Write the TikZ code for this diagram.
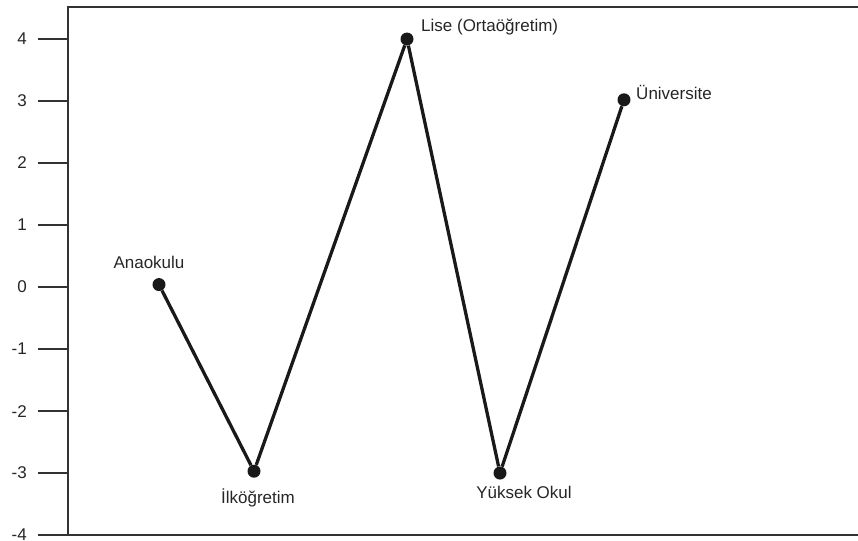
\documentclass[tikz,border=0pt]{standalone}
\usepackage{fontspec}
\setmainfont{Liberation Sans}
\tikzset{
  dot/.style={circle,fill=black!90,inner sep=0pt,minimum size=0.39cm},
  lbl/.style={text=black!85,font=\fontsize{14.5}{16}\selectfont,inner sep=0pt},
  axisline/.style={line width=1.6pt,draw=black!80},
  link/.style={line width=2.8pt,draw=black!90}
}
\begin{document}
\begin{tikzpicture}[x=0.03cm,y=1.86cm]
    \useasboundingbox (-68,-4.08) rectangle (790,4.63);
    % frame: top, left axis, bottom
    \draw [axisline] (790,4.516) -- (0,4.516) -- (0,-4) -- (790,-4);
    % ticks
    \foreach \v in {-4,...,4} {
        \draw [axisline] (-30,\v) -- (0,\v);
        \node [lbl,anchor=east] (t\v) at (-41,\v) {\v};
    }
    % points
    \node (ana) at (91,0.04) [dot] {};
    \node (ilk) at (186,-2.97) [dot] {};
    \node (lise) at (339,4) [dot] {};
    \node (yuk) at (432,-3) [dot] {};
    \node (uni) at (556,3.02) [dot] {};
    \draw [link] (ana) -- (ilk) -- (lise) -- (yuk) -- (uni);
    % labels
    \node (anaL) at (81,0.39) [lbl] {Anaokulu};
    \node (ilkL) at (190,-3.40) [lbl] {İlköğretim};
    \node (liseL) at (353,4.19) [lbl,anchor=west] {Lise (Ortaöğretim)};
    \node (yukL) at (456,-3.32) [lbl] {Yüksek Okul};
    \node (uniL) at (568,3.14) [lbl,anchor=west] {Üniversite};
\end{tikzpicture}
\end{document}
